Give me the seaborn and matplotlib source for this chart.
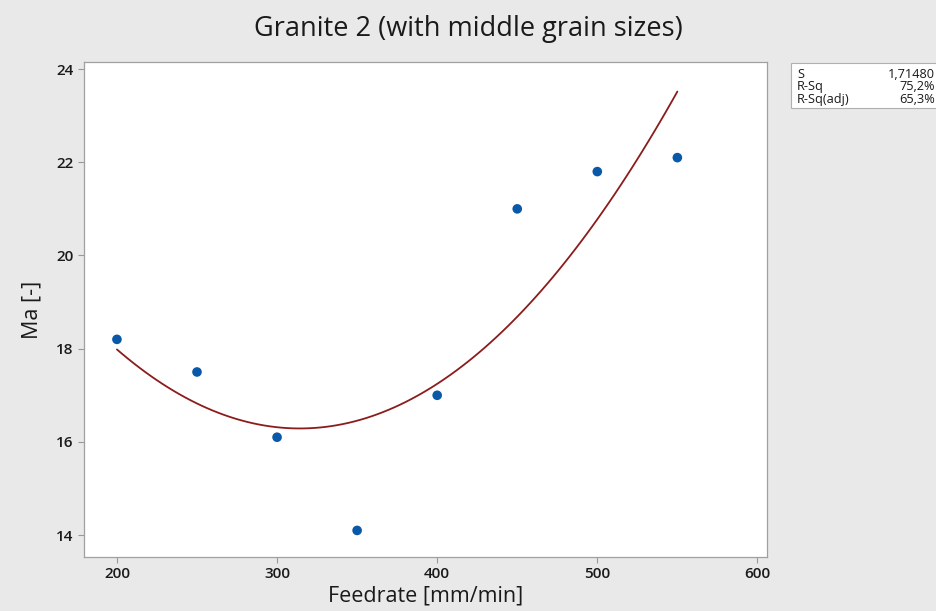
import numpy as np
import pandas as pd
import seaborn as sns
import matplotlib.pyplot as plt
from matplotlib.patches import Rectangle

sns.set_style("white")
plt.rcParams['font.family'] = ['Open Sans', 'Noto Sans', 'DejaVu Sans']

# данные: подача и Ma
feedrate = [200, 250, 300, 350, 400, 450, 500, 550]
ma = [18.2, 17.5, 16.1, 14.1, 17.0, 21.0, 21.8, 22.1]
stat_names = ['S', 'R-Sq', 'R-Sq(adj)']
stat_values = ['1,71480', '75,2%', '65,3%']

BG = '#e9e9e9'
POINT_COLOR = '#0a58a8'
LINE_COLOR = '#8b1c1c'

df = pd.DataFrame({'Feedrate': feedrate, 'Ma': ma})

fig = plt.figure(figsize=(9.37, 6.11), dpi=100, facecolor=BG)
ax = fig.add_axes([0.0896, 0.0884, 0.729, 0.81])
ax.set_facecolor('white')

# квадратичная регрессия
sns.regplot(data=df, x='Feedrate', y='Ma', order=2, ci=None, ax=ax,
            scatter_kws={'s': 48, 'color': POINT_COLOR, 'edgecolor': 'none', 'alpha': 1, 'zorder': 3},
            line_kws={'color': LINE_COLOR, 'lw': 1.3, 'zorder': 2})

ax.set_xlim(179.4, 606)
ax.set_ylim(13.53, 24.15)
ax.set_xticks([200, 300, 400, 500, 600])
ax.set_yticks([14, 16, 18, 20, 22, 24])
ax.tick_params(axis='both', which='major', length=4, width=0.8, color='#999999',
               labelsize=11, labelcolor='#1a1a1a', direction='out', bottom=True, left=True)
for lbl in ax.get_xticklabels() + ax.get_yticklabels():
    lbl.set_fontweight(600)
for sp in ax.spines.values():
    sp.set_color('#a0a0a0')
    sp.set_linewidth(0.9)

ax.set_xlabel('Feedrate [mm/min]', fontsize=15.5, color='#1a1a1a', labelpad=3)
ax.set_ylabel('Ma [-]', fontsize=15.5, color='#1a1a1a', labelpad=10)
fig.suptitle('Granite 2 (with middle grain sizes)', fontsize=19.5, fontweight=500,
             color='#1a1a1a', y=0.976)

# блок со статистикой
box = Rectangle((791 / 937, 1 - 108 / 611), 160 / 937, 45 / 611, transform=fig.transFigure,
                facecolor='white', edgecolor='#b0b0b0', lw=0.8)
fig.patches.append(box)
for i, (name, val) in enumerate(zip(stat_names, stat_values)):
    yy = 1 - (74 + i * 12.8) / 611
    fig.text(797 / 937, yy, name, fontsize=9.2, va='center', ha='left', color='#1a1a1a')
    fig.text(935 / 937, yy, val, fontsize=9.2, va='center', ha='right', color='#1a1a1a')

fig.savefig('out.png', dpi=100, facecolor=BG)
